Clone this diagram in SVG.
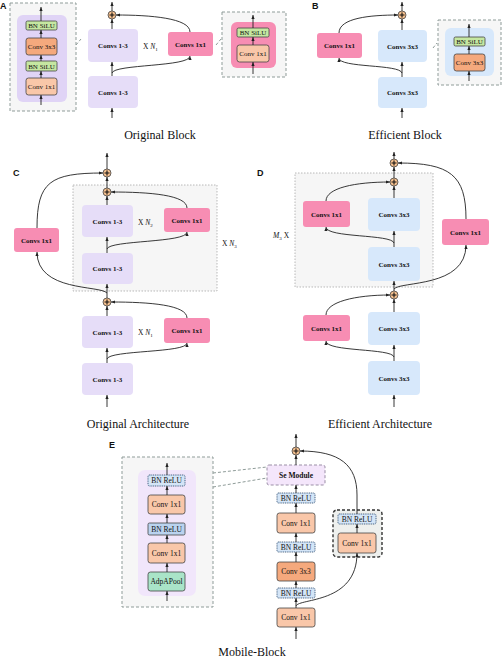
<svg xmlns="http://www.w3.org/2000/svg" width="503" height="660" viewBox="0 0 503 660">
<defs>
<marker id="ah" viewBox="0 0 10 10" refX="10" refY="5" markerWidth="4" markerHeight="4" markerUnits="userSpaceOnUse" orient="auto"><path d="M0,1 L10,5 L0,9 z" fill="#222"/></marker>
<style>
.bg{fill:#fff}
text{font-family:"Liberation Serif","Times New Roman",serif;fill:#111}
.lb{font-family:"Liberation Sans",Arial,sans-serif;font-weight:bold;font-size:9px}
.bt{font-weight:bold;font-size:7px;text-anchor:middle}
.st{font-size:7px;text-anchor:middle}
.et{font-size:7.5px;text-anchor:middle}
.cap{font-size:12px;text-anchor:middle}
.mx{font-size:7.5px}
.lav{fill:#e6ddf8}
.pink{fill:#f78db3}
.blue{fill:#d7e8fb}
.inset{fill:#f6f6f6;stroke:#8f9c99;stroke-width:1;stroke-dasharray:3,2}
.dot{fill:#f6f6f6;stroke:#a8a8a8;stroke-width:0.8;stroke-dasharray:1.5,1.5}
.grn{fill:#c5e7a1;stroke:#444;stroke-width:0.8}
.ord{fill:#f5a97d;stroke:#444;stroke-width:0.8}
.orl{fill:#f9c7a9;stroke:#444;stroke-width:0.8}
.bnd{fill:#d4e5f7;stroke:#2e4d70;stroke-width:0.9;stroke-dasharray:1,0.8}
.bns{fill:#bad3ef;stroke:#444;stroke-width:0.8}
.adp{fill:#a9e4c8;stroke:#444;stroke-width:0.8}
.plus{fill:#f6c18f;stroke:#444;stroke-width:0.8}
.pl{stroke:#111;stroke-width:1.1}
.ar{fill:none;stroke:#222;stroke-width:0.9;marker-end:url(#ah)}
.dl{fill:none;stroke:#8f9c99;stroke-width:1;stroke-dasharray:3,2}
</style>
</defs>
<rect class="bg" x="0" y="0" width="503" height="660"/>

<!-- Panel letters -->
<text class="lb" x="0" y="9">A</text>
<text class="lb" x="312" y="9">B</text>
<text class="lb" x="13" y="176">C</text>
<text class="lb" x="257" y="176">D</text>
<text class="lb" x="109" y="448">E</text>

<!-- Captions -->
<text class="cap" x="160" y="139">Original Block</text>
<text class="cap" x="405" y="139">Efficient Block</text>
<text class="cap" x="138" y="428">Original Architecture</text>
<text class="cap" x="380" y="428">Efficient Architecture</text>
<text class="cap" x="252" y="656">Mobile-Block</text>

<!-- ===== Panel A ===== -->
<g id="A-inset-left">
<rect class="inset" x="10" y="3" width="66" height="108"/>
<rect x="17" y="15" width="50" height="87" rx="6" fill="#e0d4f6"/>
<rect class="grn" x="26" y="21" width="31" height="9" rx="1.5"/>
<text class="st" x="41.5" y="28">BN SiLU</text>
<rect class="ord" x="26" y="38" width="31" height="17" rx="2.5"/>
<text class="st" x="41.5" y="49">Conv 3x3</text>
<rect class="grn" x="26" y="61" width="31" height="10" rx="1.5"/>
<text class="st" x="41.5" y="68.5">BN SiLU</text>
<rect class="orl" x="26" y="78" width="31" height="17" rx="2.5"/>
<text class="st" x="41.5" y="89">Conv 1x1</text>
</g>
<g id="A-conv-top"><rect class="lav" x="88" y="29" width="50" height="33" rx="4"/><text class="bt" x="113" y="48">Convs 1-3</text></g>
<g id="A-conv-bot"><rect class="lav" x="88" y="76" width="50" height="32" rx="4"/><text class="bt" x="113" y="94.5">Convs 1-3</text></g>
<g id="A-pink"><rect class="pink" x="168" y="32" width="45" height="24" rx="3"/><text class="bt" x="190.5" y="46.5">Convs 1x1</text></g>
<g id="A-plus"><circle class="plus" cx="112" cy="15" r="4"/><path class="pl" d="M109.5,15 H114.5 M112,12.5 V17.5"/></g>
<text class="mx" x="143" y="49">X <tspan font-style="italic">N</tspan><tspan font-size="5" dy="1.5">1</tspan></text>
<g id="A-inset-right">
<rect class="inset" x="222" y="12" width="64" height="65"/>
<rect x="231" y="22" width="45" height="46" rx="6" fill="#f78db3"/>
<rect class="grn" x="237" y="28" width="32" height="9" rx="1.5"/>
<text class="st" x="253" y="35">BN SiLU</text>
<rect class="orl" x="237" y="45" width="32" height="17" rx="2.5"/>
<text class="st" x="253" y="56">Conv 1x1</text>
</g>

<!-- ===== Panel B ===== -->
<g id="B-conv-top"><rect class="blue" x="378" y="30" width="49" height="32" rx="4"/><text class="bt" x="402.5" y="48.5">Convs 3x3</text></g>
<g id="B-conv-bot"><rect class="blue" x="378" y="77" width="49" height="31" rx="4"/><text class="bt" x="402.5" y="95">Convs 3x3</text></g>
<g id="B-pink"><rect class="pink" x="317" y="33" width="45" height="25" rx="3"/><text class="bt" x="339.5" y="48">Convs 1x1</text></g>
<g id="B-plus"><circle class="plus" cx="402" cy="15" r="4"/><path class="pl" d="M399.5,15 H404.5 M402,12.5 V17.5"/></g>
<g id="B-inset">
<rect class="inset" x="438" y="20" width="63" height="65"/>
<rect x="445" y="28" width="49" height="48" rx="6" fill="#d7e8fb"/>
<rect class="grn" x="454" y="37" width="31" height="9" rx="1.5"/>
<text class="st" x="469.5" y="44">BN SiLU</text>
<rect class="ord" x="454" y="54" width="31" height="17" rx="2.5"/>
<text class="st" x="469.5" y="65">Conv 3x3</text>
</g>

<!-- ===== Panel C ===== -->
<g id="C-loop"><rect class="dot" x="73" y="185" width="144" height="106"/></g>
<g id="C-conv1"><rect class="lav" x="82" y="205" width="51" height="32" rx="4"/><text class="bt" x="107.5" y="223.5">Convs 1-3</text></g>
<g id="C-conv2"><rect class="lav" x="82" y="253" width="51" height="31" rx="4"/><text class="bt" x="107.5" y="271">Convs 1-3</text></g>
<g id="C-pink1"><rect class="pink" x="164" y="208" width="46" height="24" rx="3"/><text class="bt" x="187" y="222.5">Convs 1x1</text></g>
<g id="C-pinkL"><rect class="pink" x="14" y="228" width="45" height="24" rx="3"/><text class="bt" x="36.5" y="242.5">Convs 1x1</text></g>
<g id="C-conv3"><rect class="lav" x="82" y="316" width="51" height="32" rx="4"/><text class="bt" x="107.5" y="334.5">Convs 1-3</text></g>
<g id="C-conv4"><rect class="lav" x="82" y="363" width="51" height="32" rx="4"/><text class="bt" x="107.5" y="381.5">Convs 1-3</text></g>
<g id="C-pink2"><rect class="pink" x="164" y="318" width="46" height="25" rx="3"/><text class="bt" x="187" y="333">Convs 1x1</text></g>
<g id="C-plus1"><circle class="plus" cx="107" cy="173" r="4"/><path class="pl" d="M104.5,173 H109.5 M107,170.5 V175.5"/></g>
<g id="C-plus2"><circle class="plus" cx="107" cy="192" r="4"/><path class="pl" d="M104.5,192 H109.5 M107,189.5 V194.5"/></g>
<g id="C-plus3"><circle class="plus" cx="107" cy="302" r="4"/><path class="pl" d="M104.5,302 H109.5 M107,299.5 V304.5"/></g>
<text class="mx" x="138" y="225">X <tspan font-style="italic">N</tspan><tspan font-size="5" dy="1.5">2</tspan></text>
<text class="mx" x="222" y="246">X <tspan font-style="italic">N</tspan><tspan font-size="5" dy="1.5">3</tspan></text>
<text class="mx" x="138" y="335">X <tspan font-style="italic">N</tspan><tspan font-size="5" dy="1.5">1</tspan></text>

<!-- ===== Panel D ===== -->
<g id="D-loop"><rect class="dot" x="295" y="173" width="138" height="114"/></g>
<g id="D-pink1"><rect class="pink" x="303" y="201" width="47" height="26" rx="3"/><text class="bt" x="326.5" y="216.5">Convs 1x1</text></g>
<g id="D-conv1"><rect class="blue" x="368" y="198" width="52" height="33" rx="4"/><text class="bt" x="394" y="217">Convs 3x3</text></g>
<g id="D-conv2"><rect class="blue" x="368" y="247" width="52" height="34" rx="4"/><text class="bt" x="394" y="266.5">Convs 3x3</text></g>
<g id="D-pinkR"><rect class="pink" x="442" y="219" width="47" height="26" rx="3"/><text class="bt" x="465.5" y="234.5">Convs 1x1</text></g>
<g id="D-pink2"><rect class="pink" x="303" y="315" width="47" height="26" rx="3"/><text class="bt" x="326.5" y="330.5">Convs 1x1</text></g>
<g id="D-conv3"><rect class="blue" x="368" y="312" width="52" height="33" rx="4"/><text class="bt" x="394" y="331">Convs 3x3</text></g>
<g id="D-conv4"><rect class="blue" x="368" y="361" width="52" height="34" rx="4"/><text class="bt" x="394" y="380.5">Convs 3x3</text></g>
<g id="D-plus1"><circle class="plus" cx="394" cy="163" r="4"/><path class="pl" d="M391.5,163 H396.5 M394,160.5 V165.5"/></g>
<g id="D-plus2"><circle class="plus" cx="394" cy="182" r="4"/><path class="pl" d="M391.5,182 H396.5 M394,179.5 V184.5"/></g>
<g id="D-plus3"><circle class="plus" cx="394" cy="295" r="4"/><path class="pl" d="M391.5,295 H396.5 M394,292.5 V297.5"/></g>
<text class="mx" x="273" y="238"><tspan font-style="italic">M</tspan><tspan font-size="5" dy="1.5">3</tspan><tspan dy="-1.5"> X</tspan></text>

<!-- ===== Panel E ===== -->
<g id="E-inset">
<rect class="inset" x="122" y="457" width="91" height="150"/>
<rect x="138" y="470" width="58" height="126" rx="7" fill="#f1e6fb"/>
<rect class="bnd" x="148" y="475" width="37" height="11" rx="1.5"/>
<text class="et" x="166.5" y="483">BN ReLU</text>
<rect class="orl" x="148" y="495" width="37" height="19" rx="2.5"/>
<text class="et" x="166.5" y="507">Conv 1x1</text>
<rect class="bns" x="148" y="523" width="37" height="12" rx="1.5"/>
<text class="et" x="166.5" y="531.5">BN ReLU</text>
<rect class="orl" x="148" y="543" width="37" height="20" rx="2.5"/>
<text class="et" x="166.5" y="555.5">Conv 1x1</text>
<rect class="adp" x="148" y="572" width="37" height="19" rx="2.5"/>
<text class="et" x="166.5" y="584">AdpAPool</text>
</g>
<g id="E-se"><rect x="267" y="465" width="58" height="20" rx="2" fill="#f4e6fb" stroke="#9b8fa6" stroke-width="1" stroke-dasharray="3,2"/><text class="bt" x="296" y="477.5" style="font-size:7.5px">Se Module</text></g>
<g id="E-bn1"><rect class="bnd" x="277" y="493" width="38" height="10" rx="1.5"/><text class="et" x="296" y="500.5">BN ReLU</text></g>
<g id="E-c1"><rect class="orl" x="277" y="513" width="38" height="20" rx="2.5"/><text class="et" x="296" y="525.5">Conv 1x1</text></g>
<g id="E-bn2"><rect class="bnd" x="277" y="542" width="38" height="10" rx="1.5"/><text class="et" x="296" y="549.5">BN ReLU</text></g>
<g id="E-c3"><rect class="ord" x="277" y="562" width="38" height="19" rx="2.5"/><text class="et" x="296" y="574">Conv 3x3</text></g>
<g id="E-bn3"><rect class="bnd" x="277" y="588" width="38" height="10" rx="1.5"/><text class="et" x="296" y="595.5">BN ReLU</text></g>
<g id="E-c0"><rect class="orl" x="277" y="608" width="38" height="19" rx="2.5"/><text class="et" x="296" y="620">Conv 1x1</text></g>
<g id="E-short">
<rect x="333" y="510" width="49" height="47" rx="4" fill="#eef0ee" stroke="#333" stroke-width="1.4" stroke-dasharray="3,2"/>
<rect class="bnd" x="338" y="514" width="38" height="10" rx="1.5"/><text class="et" x="357" y="521.5">BN ReLU</text>
<rect class="orl" x="338" y="533" width="38" height="20" rx="2.5"/><text class="et" x="357" y="545.5">Conv 1x1</text>
</g>
<g id="E-plus"><circle class="plus" cx="296" cy="451" r="4"/><path class="pl" d="M293.5,451 H298.5 M296,448.5 V453.5"/></g>

<!-- ===== Connectors ===== -->
<g id="connectors">
<path class="ar" d="M41,105 L41,95"/><path class="ar" d="M41,78 L41,71"/><path class="ar" d="M41,61 L41,55"/><path class="ar" d="M41,38 L41,30"/><path class="ar" d="M41,21 L41,7"/>
<path class="dl" d="M76,45 L81,39"/>
<path class="ar" d="M112,118 L112,108"/>
<path class="ar" d="M112,76 L112,62"/>
<path class="ar" d="M112,29 L112,19"/>
<path class="ar" d="M112,11 L112,2"/>
<path class="ar" d="M112,73 C114,64 190,67 190,56"/>
<path class="ar" d="M190,32 C190,18 150,15 116,15"/>
<path class="ar" d="M253,74 L253,62"/><path class="ar" d="M253,45 L253,37"/><path class="ar" d="M253,28 L253,15"/>
<path class="dl" d="M216,45 L221,39"/>
<path class="ar" d="M402,118 L402,108"/>
<path class="ar" d="M402,77 L402,62"/>
<path class="ar" d="M402,30 L402,19"/>
<path class="ar" d="M402,11 L402,2"/>
<path class="ar" d="M402,73 C400,64 339,68 339,58"/>
<path class="ar" d="M339,33 C339,18 370,15 398,15"/>
<path class="ar" d="M469,81 L469,71"/><path class="ar" d="M469,54 L469,46"/><path class="ar" d="M469,37 L469,24"/>
<path class="dl" d="M433,48 L437,43"/>
<path class="ar" d="M107,169 L107,153"/>
<path class="ar" d="M107,188 L107,177"/>
<path class="ar" d="M107,205 L107,196"/>
<path class="ar" d="M107,253 L107,237"/>
<path class="ar" d="M107,249 C109,240 187,243 187,232"/>
<path class="ar" d="M187,208 C187,195 150,192 111,192"/>
<path class="ar" d="M107,298 L107,284"/>
<path class="ar" d="M107,293 C100,285 37,292 37,252"/>
<path class="ar" d="M37,228 C37,182 50,173 103,173"/>
<path class="ar" d="M107,316 L107,306"/>
<path class="ar" d="M107,363 L107,348"/>
<path class="ar" d="M107,359 C109,350 187,353 187,343"/>
<path class="ar" d="M187,318 C187,305 150,302 111,302"/>
<path class="ar" d="M107,407 L107,395"/>
<path class="ar" d="M394,159 L394,152"/>
<path class="ar" d="M394,178 L394,167"/>
<path class="ar" d="M394,198 L394,186"/>
<path class="ar" d="M394,247 L394,231"/>
<path class="ar" d="M394,243 C392,234 326,238 326,227"/>
<path class="ar" d="M326,201 C326,188 355,182 390,182"/>
<path class="ar" d="M394,291 L394,281"/>
<path class="ar" d="M394,289 C400,281 466,288 466,245"/>
<path class="ar" d="M466,219 C466,175 450,163 398,163"/>
<path class="ar" d="M394,312 L394,299"/>
<path class="ar" d="M394,361 L394,345"/>
<path class="ar" d="M394,357 C392,348 326,352 326,341"/>
<path class="ar" d="M326,315 C326,302 355,295 390,295"/>
<path class="ar" d="M394,407 L394,395"/>
<path class="ar" d="M167,601 L167,591"/><path class="ar" d="M167,572 L167,563"/><path class="ar" d="M167,543 L167,535"/><path class="ar" d="M167,523 L167,514"/><path class="ar" d="M167,495 L167,486"/><path class="ar" d="M167,475 L167,463"/>
<path class="dl" d="M213,473 L267,467"/>
<path class="dl" d="M213,487 L267,478"/>
<path class="ar" d="M296,639 L296,627"/>
<path class="ar" d="M296,608 L296,598"/>
<path class="ar" d="M296,588 L296,581"/>
<path class="ar" d="M296,562 L296,552"/>
<path class="ar" d="M296,542 L296,533"/>
<path class="ar" d="M296,513 L296,503"/>
<path class="ar" d="M296,493 L296,485"/>
<path class="ar" d="M296,465 L296,455"/>
<path class="ar" d="M296,447 L296,434"/>
<path class="ar" d="M296,606 C299,598 357,604 357,553"/>
<path class="ar" d="M357,533 L357,524"/>
<path class="ar" d="M357,514 L357,495 C357,465 340,451 300,451"/>
</g>
</svg>
